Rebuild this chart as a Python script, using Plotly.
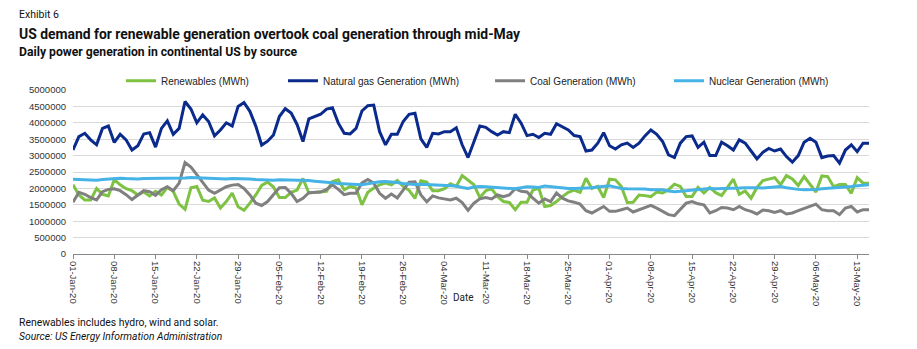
import pandas as pd
import plotly.graph_objects as go

# Daily values (MWh), 01-Jan-2020 .. 15-May-2020
renewables = [2.11, 1.80, 1.65, 1.65, 2.00, 1.82, 1.77, 2.27, 2.11, 1.99,
              1.93, 1.80, 1.89, 1.77, 1.91, 1.80, 2.03, 1.91, 1.52, 1.36,
              2.02, 2.06, 1.64, 1.60, 1.71, 1.40, 1.60, 1.86, 1.44, 1.33,
              1.55, 1.80, 2.09, 2.19, 2.04, 1.72, 1.72, 1.88, 1.95, 2.30,
              1.86, 1.88, 1.88, 1.91, 2.21, 2.26, 1.96, 2.06, 2.01, 1.50,
              1.88, 2.01, 2.11, 2.16, 2.11, 2.24, 2.06, 1.94, 1.70, 2.23,
              2.19, 1.93, 1.93, 1.99, 2.14, 2.06, 2.39, 2.26, 2.11, 1.72,
              1.93, 1.99, 1.75, 1.60, 1.57, 1.35, 1.58, 1.58, 1.95, 2.00,
              1.45, 1.48, 1.60, 1.75, 1.88, 1.95, 1.88, 2.31, 2.00, 2.06,
              1.72, 2.28, 2.26, 2.06, 1.57, 1.58, 1.80, 1.78, 1.75, 1.89,
              1.86, 1.96, 2.13, 2.06, 1.75, 1.75, 2.03, 1.86, 2.03, 1.87,
              1.78, 2.03, 2.28, 1.82, 1.92, 1.70, 2.03, 2.24, 2.28, 2.33,
              2.11, 2.39, 2.29, 2.09, 2.36, 2.11, 1.89, 2.38, 2.36, 2.05,
              2.12, 2.12, 1.85, 2.33, 2.16, 2.16]
natural_gas = [3.17, 3.58, 3.68, 3.48, 3.33, 3.83, 3.90, 3.40, 3.65, 3.48,
               3.17, 3.30, 3.66, 3.70, 3.26, 3.83, 4.06, 3.65, 3.83, 4.65,
               4.42, 4.00, 4.24, 4.04, 3.60, 3.78, 4.00, 3.90, 4.50, 4.62,
               4.35, 3.90, 3.32, 3.44, 3.63, 4.19, 4.43, 4.30, 3.95, 3.43,
               4.12, 4.19, 4.26, 4.42, 4.46, 3.99, 3.68, 3.66, 3.83, 4.36,
               4.52, 4.54, 3.73, 3.33, 3.65, 3.65, 4.04, 4.26, 4.29, 3.51,
               3.25, 3.68, 3.66, 3.73, 3.73, 3.85, 3.33, 2.94, 3.43, 3.90,
               3.86, 3.73, 3.63, 3.73, 3.70, 4.26, 3.99, 3.61, 3.65, 3.55,
               3.68, 3.65, 3.97, 3.88, 3.78, 3.61, 3.58, 3.14, 3.17, 3.38,
               3.70, 3.30, 3.20, 3.33, 3.38, 3.25, 3.38, 3.60, 3.78, 3.65,
               3.43, 3.02, 2.94, 3.38, 3.58, 3.60, 3.25, 3.41, 3.00, 3.00,
               3.41, 3.30, 3.17, 3.48, 3.38, 3.14, 2.90, 3.10, 3.22, 3.14,
               3.20, 2.97, 2.80, 3.00, 3.41, 3.53, 3.41, 2.94, 2.99, 3.00,
               2.77, 3.17, 3.33, 3.12, 3.38, 3.38]
coal = [1.58, 1.88, 1.82, 1.72, 1.65, 1.90, 1.97, 1.99, 1.93, 1.81,
        1.66, 1.80, 1.93, 1.90, 1.79, 1.96, 2.05, 1.93, 2.16, 2.79,
        2.65, 2.42, 2.20, 1.95, 1.85, 1.95, 2.05, 2.10, 2.12, 2.00,
        1.80, 1.55, 1.48, 1.60, 1.80, 2.02, 2.03, 1.85, 1.60, 1.70,
        1.87, 1.88, 1.89, 1.97, 2.11, 1.97, 1.81, 1.85, 1.85, 2.17,
        2.27, 2.16, 1.85, 1.70, 1.83, 1.71, 1.95, 2.19, 2.20, 1.80,
        1.59, 1.77, 1.71, 1.69, 1.65, 1.70, 1.57, 1.33, 1.55, 1.68,
        1.72, 1.68, 1.80, 1.75, 1.80, 1.99, 1.91, 1.89, 1.70, 1.55,
        1.68, 1.60, 1.86, 1.70, 1.62, 1.58, 1.52, 1.32, 1.25, 1.35,
        1.45, 1.30, 1.30, 1.35, 1.40, 1.28, 1.35, 1.41, 1.48, 1.40,
        1.30, 1.20, 1.17, 1.35, 1.55, 1.60, 1.53, 1.50, 1.25, 1.32,
        1.42, 1.40, 1.35, 1.45, 1.35, 1.30, 1.22, 1.34, 1.32, 1.27,
        1.32, 1.22, 1.25, 1.32, 1.38, 1.45, 1.52, 1.35, 1.32, 1.32,
        1.20, 1.40, 1.45, 1.28, 1.35, 1.35]
nuclear = [2.28, 2.27, 2.25, 2.24, 2.25, 2.27, 2.29, 2.31, 2.31, 2.30,
           2.29, 2.29, 2.30, 2.30, 2.31, 2.31, 2.31, 2.31, 2.32, 2.32,
           2.33, 2.32, 2.31, 2.30, 2.30, 2.29, 2.29, 2.30, 2.30, 2.30,
           2.29, 2.27, 2.26, 2.25, 2.25, 2.26, 2.26, 2.26, 2.26, 2.25,
           2.24, 2.22, 2.21, 2.19, 2.17, 2.15, 2.14, 2.13, 2.12, 2.11,
           2.14, 2.18, 2.20, 2.21, 2.20, 2.18, 2.15, 2.13, 2.12, 2.13,
           2.12, 2.11, 2.11, 2.10, 2.09, 2.07, 2.03, 2.00, 2.04, 2.06,
           2.05, 2.04, 2.03, 2.02, 2.01, 1.99, 2.02, 2.05, 2.04, 2.03,
           2.07, 2.05, 2.02, 2.00, 2.00, 2.00, 2.00, 2.01, 2.02, 2.04,
           2.07, 2.08, 2.04, 2.00, 1.99, 1.99, 1.99, 1.98, 1.96, 1.97,
           1.96, 1.92, 1.90, 1.91, 1.93, 1.93, 1.95, 1.98, 2.00, 1.99,
           1.99, 1.99, 2.00, 2.01, 2.02, 2.03, 2.02, 2.01, 2.02, 2.04,
           2.06, 2.02, 1.99, 1.97, 1.96, 1.96, 1.97, 1.99, 2.00, 2.02,
           2.03, 2.05, 2.06, 2.08, 2.09, 2.11]

series_names = ["Renewables (MWh)", "Natural gas Generation (MWh)",
                "Coal Generation (MWh)", "Nuclear Generation (MWh)"]
series_colors = ["#7DC243", "#0A2A8C", "#808080", "#45B3E6"]
y_ticks = [0, 500000, 1000000, 1500000, 2000000, 2500000, 3000000,
           3500000, 4000000, 4500000, 5000000]

dates = pd.date_range("2020-01-01", periods=len(natural_gas), freq="D")
tick_dates = pd.date_range("2020-01-01", "2020-05-15", freq="7D")

NARROW = "Roboto, Liberation Sans, sans-serif"
ARIAL = "Liberation Sans, Arial, sans-serif"

fig = go.Figure()
legends = ["legend", "legend2", "legend3", "legend4"]
legend_x = [0.0603, 0.2638, 0.5239, 0.7487]
for vals, name, col, lg in zip([renewables, natural_gas, coal, nuclear],
                               series_names, series_colors, legends):
    fig.add_trace(go.Scatter(
        x=dates, y=[v * 1e6 for v in vals], mode="lines", name=name,
        line=dict(color=col, width=3), legend=lg))

leg_common = dict(orientation="h", yanchor="middle", y=1.057, xanchor="left",
                  bgcolor="rgba(0,0,0,0)", borderwidth=0,
                  font=dict(family=ARIAL, size=10, color="#222222"))
layout_legends = {}
for lg, lx in zip(legends, legend_x):
    layout_legends[lg] = dict(leg_common, x=lx)

fig.update_layout(
    width=917, height=349,
    margin=dict(l=73, r=48, t=90, b=95),
    paper_bgcolor="white", plot_bgcolor="white",
    showlegend=True,
    **layout_legends,
    xaxis=dict(
        type="date",
        range=[dates[0], dates[-1]],
        tickvals=list(tick_dates),
        tickformat="%d-%b-%y",
        tickangle=90,
        ticks="outside", ticklen=4, tickcolor="#888888",
        showline=True, linecolor="#888888", linewidth=1,
        showgrid=False, zeroline=False,
        tickfont=dict(family=ARIAL, size=9.5, color="#333333"),
    ),
    yaxis=dict(
        range=[0, 5000000],
        tickvals=y_ticks,
        tickformat="d",
        showgrid=True, gridcolor="#D9D9D9", gridwidth=1,
        zeroline=False, showline=False,
        ticks="", ticklabelstandoff=6,
        tickfont=dict(family=ARIAL, size=9.5, color="#333333"),
    ),
)

annos = [
    dict(text="Exhibit 6", y=1.463, size=10.5),
    dict(text="<b>US demand for renewable generation overtook coal generation through mid-May</b>",
         y=1.341, size=13.9),
    dict(text="<b>Daily power generation in continental US by source</b>",
         y=1.232, size=12.2),
    dict(text="Renewables includes hydro, wind and solar.", y=-0.415, size=10.4),
    dict(text="<i>Source: US Energy Information Administration</i>", y=-0.506, size=10.3),
]
for a in annos:
    fig.add_annotation(text=a["text"], x=-0.0704, y=a["y"], xref="paper", yref="paper",
                       xanchor="left", yanchor="middle", showarrow=False,
                       font=dict(family=NARROW, size=a["size"], color="#111111"))

fig.add_annotation(text="Date", x=0.49, y=-0.268, xref="paper", yref="paper",
                   xanchor="center", yanchor="middle", showarrow=False,
                   font=dict(family=NARROW, size=10, color="#222222"))

fig.write_html("out.html")
